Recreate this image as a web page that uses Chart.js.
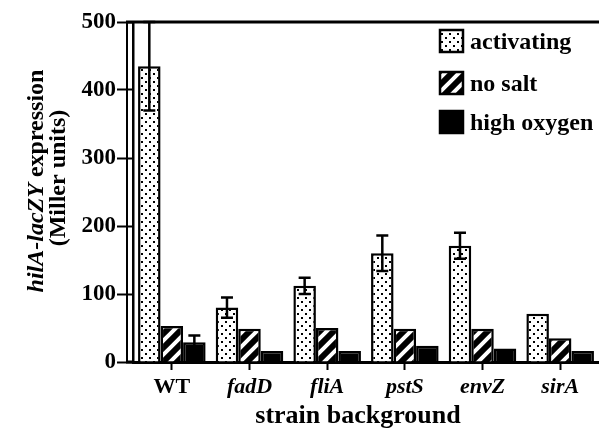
<!DOCTYPE html>
<html>
<head>
<meta charset="utf-8">
<script src="https://cdn.jsdelivr.net/npm/chart.js@4/dist/chart.umd.min.js"></script>
<style>
html,body{margin:0;padding:0;background:#fff;}
canvas{display:block;}
</style>
</head>
<body>
<canvas id="c" width="599" height="431"></canvas>
<script>
const categories = ['WT', 'fadD', 'fliA', 'pstS', 'envZ', 'sirA'];
const activating = [435, 80, 112, 160, 171, 71];
const activatingErr = [65, 15, 12, 26, 19, 0];
const noSalt = [53, 49, 50, 49, 49, 35];
const noSaltErr = [0, 0, 0, 0, 0, 0];
const highOxygen = [29, 16, 16, 24, 20, 16];
const highOxygenErr = [10, 0, 0, 0, 0, 0];
const seriesLabels = ['activating', 'no salt', 'high oxygen'];
const yTicks = [0, 100, 200, 300, 400, 500];
const xTitle = 'strain background';
const yTitleItalic = 'hilA-lacZY';
const yTitleRest = ' expression';
const yTitleLine2 = '(Miller units)';

const FONT = '"Liberation Serif", "Times New Roman", serif';

function dotPattern() {
  const c = document.createElement('canvas');
  c.width = 8; c.height = 8;
  const g = c.getContext('2d');
  g.fillStyle = '#fff'; g.fillRect(0, 0, 8, 8);
  g.fillStyle = '#000';
  g.fillRect(1, 1, 2, 2);
  g.fillRect(5, 5, 2, 2);
  return g.createPattern(c, 'repeat');
}
function hatchPattern() {
  const s = 14;
  const c = document.createElement('canvas');
  c.width = s; c.height = s;
  const g = c.getContext('2d');
  g.fillStyle = '#000'; g.fillRect(0, 0, s, s);
  g.strokeStyle = '#fff'; g.lineWidth = 4;
  g.beginPath();
  g.moveTo(-2, 2); g.lineTo(2, -2);
  g.moveTo(0, s); g.lineTo(s, 0);
  g.moveTo(s - 2, s + 2); g.lineTo(s + 2, s - 2);
  g.stroke();
  return g.createPattern(c, 'repeat');
}

const fills = [dotPattern(), hatchPattern(), '#000'];
const errs = [activatingErr, noSaltErr, highOxygenErr];

const whiteBg = {
  id: 'whiteBg',
  beforeDraw(chart) {
    const ctx = chart.ctx;
    ctx.save(); ctx.fillStyle = '#fff';
    ctx.fillRect(0, 0, chart.width, chart.height);
    ctx.restore();
  }
};

const errorBars = {
  id: 'errorBars',
  afterDatasetsDraw(chart) {
    const ctx = chart.ctx;
    const y = chart.scales.y;
    ctx.save();
    ctx.strokeStyle = '#000';
    ctx.lineWidth = 2.5;
    chart.data.datasets.forEach((ds, di) => {
      const meta = chart.getDatasetMeta(di);
      const e = errs[di];
      meta.data.forEach((bar, i) => {
        if (!e[i]) return;
        const v = ds.data[i];
        const top = y.getPixelForValue(v + e[i]);
        const bot = y.getPixelForValue(v - e[i]);
        const x = bar.x;
        const cw = 6;
        ctx.beginPath();
        ctx.moveTo(x, top); ctx.lineTo(x, bot);
        ctx.moveTo(x - cw, top); ctx.lineTo(x + cw, top);
        ctx.moveTo(x - cw, bot); ctx.lineTo(x + cw, bot);
        ctx.stroke();
      });
    });
    ctx.restore();
  }
};

const decor = {
  id: 'decor',
  afterDraw(chart) {
    const ctx = chart.ctx;
    const a = chart.chartArea;
    ctx.save();
    ctx.strokeStyle = '#000';
    // outer vertical line of the left frame
    ctx.lineWidth = 2;
    ctx.beginPath();
    ctx.moveTo(a.left - 6, a.top);
    ctx.lineTo(a.left - 6, a.bottom);
    ctx.stroke();
    // top frame line
    ctx.lineWidth = 3;
    ctx.beginPath();
    ctx.moveTo(a.left - 7, a.top);
    ctx.lineTo(chart.width, a.top);
    ctx.stroke();
    // baseline extended to outer frame line
    ctx.beginPath();
    ctx.moveTo(a.left - 7, a.bottom);
    ctx.lineTo(a.left, a.bottom);
    ctx.stroke();

    // legend
    ctx.font = 'bold 24px ' + FONT;
    ctx.textBaseline = 'alphabetic';
    ctx.textAlign = 'left';
    const baselines = [49, 91, 130];
    chart.data.datasets.forEach((ds, i) => {
      const bx = 440, bw = 23, bh = 22;
      const by = baselines[i] - 8 - bh / 2;
      ctx.fillStyle = ds.backgroundColor;
      ctx.fillRect(bx, by, bw, bh);
      ctx.lineWidth = 2.5;
      ctx.strokeStyle = '#000';
      ctx.strokeRect(bx, by, bw, bh);
      ctx.fillStyle = '#000';
      ctx.fillText(ds.label, 470, baselines[i]);
    });

    // x title
    ctx.font = 'bold 26px ' + FONT;
    ctx.textAlign = 'center';
    ctx.textBaseline = 'middle';
    ctx.fillText(xTitle, 358, 416);

    // y title (rotated, two lines)
    const fi = 'italic bold 24px ' + FONT;
    const fb = 'bold 24px ' + FONT;
    ctx.save();
    ctx.translate(37, 181);
    ctx.rotate(-Math.PI / 2);
    ctx.font = fi; const w1 = ctx.measureText(yTitleItalic).width;
    ctx.font = fb; const w2 = ctx.measureText(yTitleRest).width;
    const start = -(w1 + w2) / 2;
    ctx.textAlign = 'left';
    ctx.font = fi; ctx.fillText(yTitleItalic, start, 0);
    ctx.font = fb; ctx.fillText(yTitleRest, start + w1, 0);
    ctx.restore();
    ctx.save();
    ctx.translate(59, 178);
    ctx.rotate(-Math.PI / 2);
    ctx.textAlign = 'center';
    ctx.font = fb;
    ctx.fillText(yTitleLine2, 0, 0);
    ctx.restore();
    ctx.restore();
  }
};

const datasets = [activating, noSalt, highOxygen].map((d, i) => ({
  label: seriesLabels[i],
  data: d,
  backgroundColor: fills[i],
  borderColor: '#000',
  borderWidth: 2.5,
  borderSkipped: 'bottom',
  categoryPercentage: 0.87,
  barPercentage: 1.0
}));

new Chart(document.getElementById('c'), {
  type: 'bar',
  data: { labels: categories, datasets },
  plugins: [whiteBg, errorBars, decor],
  options: {
    responsive: false,
    animation: false,
    devicePixelRatio: 1,
    layout: { padding: { top: 22, right: -3, left: 0, bottom: 0 } },
    plugins: { legend: { display: false }, tooltip: { enabled: false } },
    scales: {
      x: {
        grid: { display: true, drawOnChartArea: false, drawTicks: true, tickLength: 8, tickWidth: 2, tickColor: '#000', offset: false },
        border: { display: true, color: '#000', width: 3 },
        ticks: {
          color: '#000',
          padding: 4,
          font: (ctx) => ({ family: FONT, size: 22, weight: 'bold', style: (categories[ctx.index] === 'WT') ? 'normal' : 'italic' })
        },
        afterFit(scale) { scale.height = 69; }
      },
      y: {
        min: 0, max: 500,
        afterBuildTicks(scale) { scale.ticks = yTicks.map(v => ({ value: v })); },
        grid: { display: true, drawOnChartArea: false, drawTicks: true, tickLength: 16, tickWidth: 2, tickColor: '#000' },
        border: { display: true, color: '#000', width: 2.5 },
        ticks: { color: '#000', padding: 1, font: { family: FONT, size: 23, weight: 'bold' } },
        afterFit(scale) { scale.width = 133; }
      }
    }
  }
});
</script>
</body>
</html>
